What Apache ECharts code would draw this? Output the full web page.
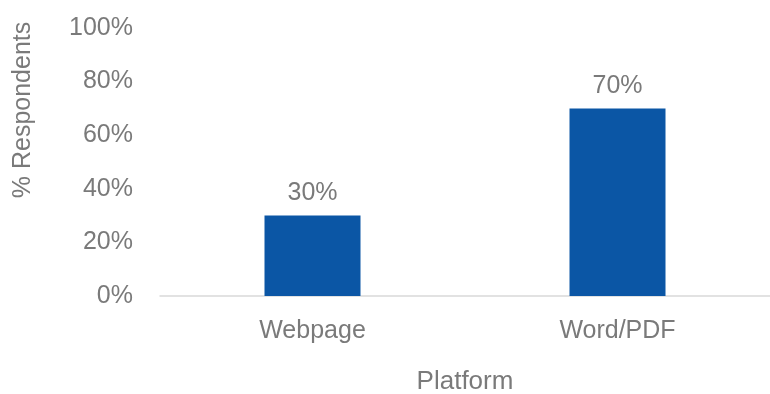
<!DOCTYPE html>
<html>
<head>
<meta charset="utf-8">
<script src="https://cdn.jsdelivr.net/npm/echarts@6/dist/echarts.min.js"></script>
<style>
  html, body { margin: 0; padding: 0; background: #fff; }
  #chart { width: 770px; height: 394px; }
</style>
</head>
<body>
<div id="chart"></div>
<script>
// Share of respondents by document platform
const platforms = ['Webpage', 'Word/PDF'];
const respondentShare = [30, 70];
const yTicks = [0, 20, 40, 60, 80, 100];

const textGray = '#7a7a7a';
const fontFamily = 'Liberation Sans, Arial, sans-serif';
const fontSize = 25;

const chart = echarts.init(document.getElementById('chart'));
chart.setOption({
  animation: false,
  grid: { left: 160, right: 0, top: 28, bottom: 98, containLabel: false, outerBoundsMode: 'none' },
  xAxis: {
    type: 'category',
    data: platforms,
    name: 'Platform',
    nameLocation: 'middle',
    nameGap: 73,
    nameTextStyle: { color: textGray, fontSize: 26, fontFamily },
    axisLine: { lineStyle: { color: '#d9d9d9', width: 1.5 } },
    axisTick: { show: false },
    axisLabel: { color: textGray, fontSize, fontFamily, margin: 23 }
  },
  yAxis: {
    type: 'value',
    min: yTicks[0],
    max: yTicks[yTicks.length - 1],
    interval: 20,
    name: '% Respondents',
    nameLocation: 'middle',
    nameGap: 124,
    nameRotate: 90,
    nameTextStyle: { color: textGray, fontSize, fontFamily, padding: [0, 0, 0, 104] },
    splitLine: { show: false },
    axisLine: { show: false },
    axisTick: { show: false },
    axisLabel: { color: textGray, fontSize, fontFamily, margin: 27, formatter: v => v + '%' }
  },
  series: [{
    type: 'bar',
    data: respondentShare,
    barWidth: 96,
    itemStyle: { color: '#0B56A5' },
    label: {
      show: true,
      position: 'top',
      distance: 10,
      color: textGray,
      fontSize,
      fontFamily,
      formatter: p => p.value + '%'
    }
  }]
});
</script>
</body>
</html>
